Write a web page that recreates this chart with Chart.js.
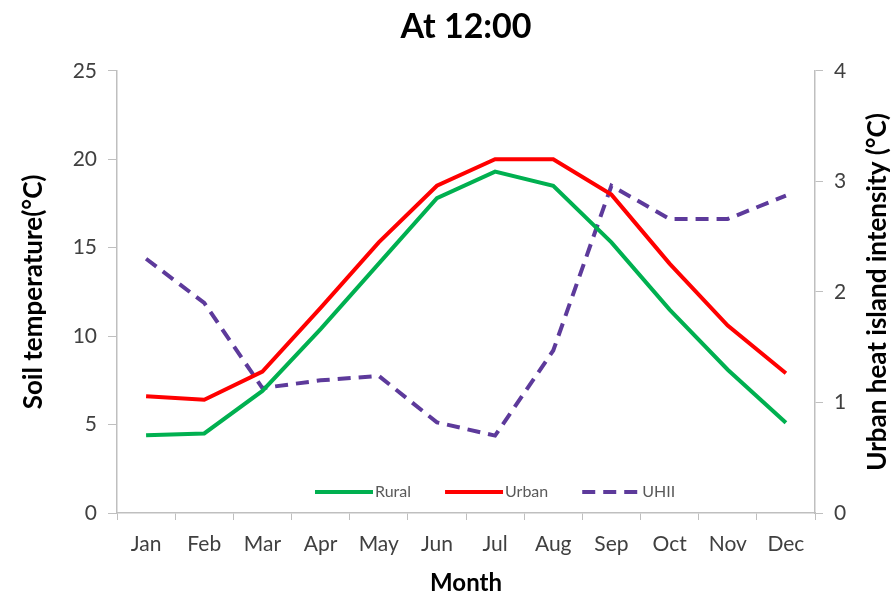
<!DOCTYPE html>
<html>
<head>
<meta charset="utf-8">
<script src="https://cdn.jsdelivr.net/npm/chart.js@4/dist/chart.umd.min.js"></script>
<style>
  html, body { margin: 0; padding: 0; background: #fff; }
  #wrap { width: 896px; height: 598px; }
</style>
</head>
<body>
<div id="wrap"><canvas id="soilChart" width="896" height="598"></canvas></div>
<script>
const months = ['Jan', 'Feb', 'Mar', 'Apr', 'May', 'Jun', 'Jul', 'Aug', 'Sep', 'Oct', 'Nov', 'Dec'];
const rural = [4.4, 4.5, 6.9, 10.4, 14.1, 17.8, 19.3, 18.5, 15.3, 11.5, 8.1, 5.1];
const urban = [6.6, 6.4, 8.0, 11.6, 15.3, 18.5, 20.0, 20.0, 18.0, 14.1, 10.6, 7.9];
const uhii = [2.30, 1.90, 1.13, 1.20, 1.24, 0.82, 0.70, 1.47, 2.96, 2.66, 2.66, 2.87];
const leftTicks = [0, 5, 10, 15, 20, 25];
const rightTicks = [0, 1, 2, 3, 4];
const rightTitle = 'Urban heat island intensity (°C)';

const fontFamily = 'Lato, "Open Sans", sans-serif';
const axisGrey = '#bfbfbf';
const tickColor = '#404040';

// legend drawn inside the plot area, like the original
const insideLegend = {
    id: 'insideLegend',
    afterDatasetsDraw(chart) {
        const ctx = chart.ctx;
        const area = chart.chartArea;
        const y = area.bottom - 21;
        let x = area.left + 198;
        ctx.save();
        ctx.font = '16px ' + fontFamily;
        ctx.textBaseline = 'middle';
        chart.data.datasets.forEach(ds => {
            ctx.strokeStyle = ds.borderColor;
            ctx.lineWidth = ds.borderWidth;
            ctx.setLineDash(ds.borderDash || []);
            ctx.beginPath();
            ctx.moveTo(x, y);
            ctx.lineTo(x + 58, y);
            ctx.stroke();
            ctx.setLineDash([]);
            ctx.fillStyle = '#595959';
            ctx.fillText(ds.label, x + 60, y);
            x += 60 + ctx.measureText(ds.label).width + 34;
        });
        ctx.restore();
    }
};

// right axis title reads bottom-to-top in the original
const rightAxisTitle = {
    id: 'rightAxisTitle',
    afterDraw(chart) {
        const ctx = chart.ctx;
        const area = chart.chartArea;
        ctx.save();
        ctx.translate(chart.width - 18, (area.top + area.bottom) / 2);
        ctx.rotate(-Math.PI / 2);
        ctx.font = 'bold 26px ' + fontFamily;
        ctx.fillStyle = '#000';
        ctx.textAlign = 'center';
        ctx.textBaseline = 'middle';
        ctx.fillText(rightTitle, 0, 0);
        ctx.restore();
    }
};

new Chart(document.getElementById('soilChart'), {
    type: 'line',
    data: {
        labels: months,
        datasets: [
            { label: 'Rural', data: rural, borderColor: '#00b050', borderWidth: 4, yAxisID: 'y' },
            { label: 'Urban', data: urban, borderColor: '#ff0000', borderWidth: 4, yAxisID: 'y' },
            { label: 'UHII', data: uhii, borderColor: '#5d3a9b', borderWidth: 4, borderDash: [13, 8], yAxisID: 'y1' }
        ]
    },
    options: {
        responsive: false,
        animation: false,
        elements: { point: { radius: 0 }, line: { tension: 0, fill: false, borderCapStyle: 'butt' } },
        layout: { padding: { left: 18, right: 0, top: 4, bottom: 0 } },
        plugins: {
            legend: { display: false },
            tooltip: { enabled: false },
            title: {
                display: true,
                fullSize: false,
                text: 'At 12:00',
                color: '#000',
                font: { family: fontFamily, size: 34, weight: 'bold' },
                padding: { top: 3, bottom: 23 }
            }
        },
        scales: {
            x: {
                offset: true,
                afterFit: s => { s.height = 85; },
                grid: { drawOnChartArea: false, drawTicks: true, tickLength: 7, color: axisGrey, offset: true },
                border: { color: axisGrey, width: 1.5 },
                ticks: { color: tickColor, font: { family: fontFamily, size: 21 }, padding: 12 },
                title: { display: true, text: 'Month', color: '#000', font: { family: fontFamily, size: 24, weight: 'bold' }, padding: { top: 3, bottom: 0 } }
            },
            y: {
                position: 'left',
                min: 0, max: 25,
                afterBuildTicks: s => { s.ticks = leftTicks.map(v => ({ value: v })); },
                afterFit: s => { s.width = 99; },
                grid: { drawOnChartArea: false, drawTicks: true, tickLength: 9, color: axisGrey },
                border: { color: axisGrey, width: 1.5 },
                ticks: { color: tickColor, font: { family: fontFamily, size: 21 }, padding: 11 },
                title: { display: true, text: 'Soil temperature(°C)', color: '#000', font: { family: fontFamily, size: 26, weight: 'bold' }, padding: 0 }
            },
            y1: {
                position: 'right',
                min: 0, max: 4,
                afterBuildTicks: s => { s.ticks = rightTicks.map(v => ({ value: v })); },
                afterFit: s => { s.width = 81; },
                grid: { drawOnChartArea: false, drawTicks: true, tickLength: 8, color: axisGrey },
                border: { color: axisGrey, width: 1.5 },
                ticks: { color: tickColor, font: { family: fontFamily, size: 21 }, padding: 11 },
                title: { display: false }
            }
        }
    },
    plugins: [insideLegend, rightAxisTitle]
});
</script>
</body>
</html>
